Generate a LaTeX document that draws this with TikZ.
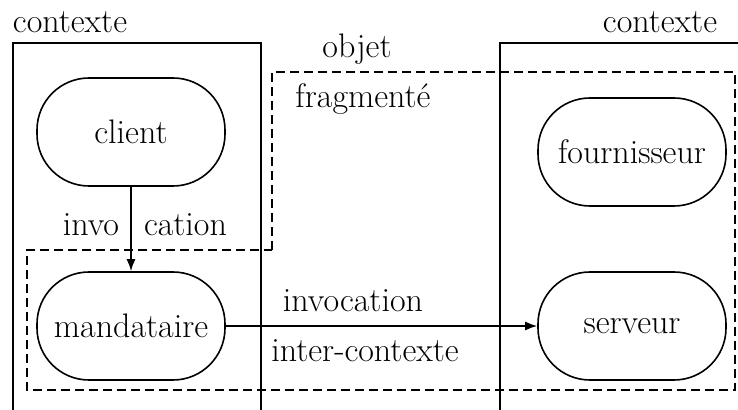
\documentclass[tikz,border=0pt]{standalone}
\usetikzlibrary{arrows.meta}
\begin{document}
\begin{tikzpicture}[x=0.5pt,y=-0.5pt,line width=1pt,font=\fontsize{17}{20}\selectfont,
		stadium/.style={draw,line width=0.8pt,rounded corners=26pt,minimum width=94pt,minimum height=54pt,inner sep=0pt},
		fragline/.style={dash pattern=on 4.5pt off 2.5pt,line width=1pt},
		flow/.style={line width=0.8pt,-{Latex[length=6pt,width=4.5pt]}}]
		\useasboundingbox (0,0) rectangle (738,410);
		\draw (13,410) -- (13,43) -- (261,43) -- (261,410);
		\draw (738,43) -- (500,43) -- (500,410);
		\draw[fragline] (272,250) -- (272,72) -- (735,72) -- (735,390) -- (27,390) -- (27,250) -- cycle;
		\node[anchor=base] (ctxleft) at (70,33) {contexte};
		\node[anchor=base] (ctxright) at (660,33) {contexte};
		\node[anchor=base] (objet) at (357,58) {objet};
		\node[anchor=base] (fragm) at (363,108) {fragmenté};
		\node[stadium] (client) at (131,132) {client};
		\node[stadium] (mandataire) at (131,326) {mandataire};
		\node[stadium] (fournisseur) at (632,152) {fournisseur};
		\node[stadium] (serveur) at (632,326) {serveur};
		\draw[flow] (client) -- (mandataire);
		\draw[flow] (mandataire) -- (serveur);
		\node[anchor=base east,inner sep=0pt] (invoA) at (120,236) {invo};
		\node[anchor=base west,inner sep=0pt] (invoB) at (143,236) {cation};
		\node[anchor=base] (invoC) at (353,312) {invocation};
		\node[anchor=base] (intercx) at (365,362) {inter-contexte};
	\end{tikzpicture}
\end{document}
